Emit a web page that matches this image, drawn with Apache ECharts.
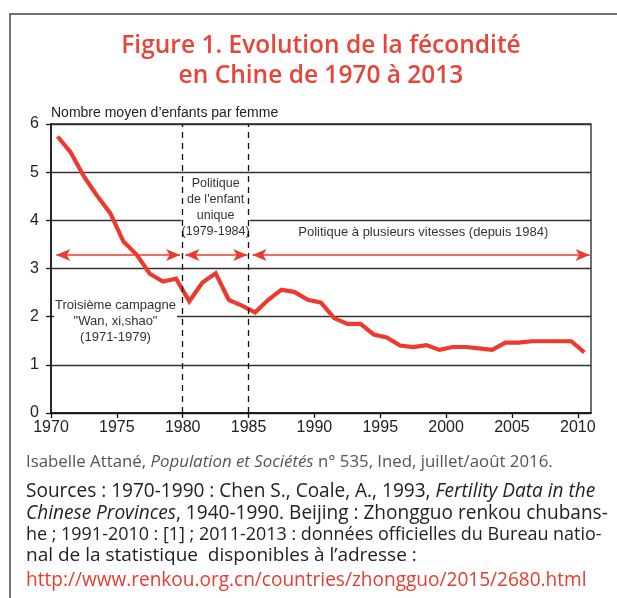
<!DOCTYPE html>
<html>
<head>
<meta charset="utf-8">
<script src="https://cdn.jsdelivr.net/npm/echarts@6/dist/echarts.min.js"></script>
<style>
  html, body { margin: 0; padding: 0; background: #fff; }
  #chart { width: 617px; height: 598px; }
</style>
</head>
<body>
<div id="chart"></div>
<script>
// années (points tracés au milieu de l'année)
const years = [
  1970, 1971, 1972, 1973, 1974, 1975, 1976, 1977, 1978, 1979,
  1980, 1981, 1982, 1983, 1984, 1985, 1986, 1987, 1988, 1989,
  1990, 1991, 1992, 1993, 1994, 1995, 1996, 1997, 1998, 1999,
  2000, 2001, 2002, 2003, 2004, 2005, 2006, 2007, 2008, 2009, 2010,
];
// nombre moyen d'enfants par femme
const tfr = [
  5.74, 5.41, 4.91, 4.51, 4.15, 3.56, 3.29, 2.89, 2.73, 2.79,
  2.32, 2.71, 2.90, 2.35, 2.23, 2.09, 2.35, 2.56, 2.51, 2.35,
  2.29, 1.97, 1.85, 1.85, 1.63, 1.57, 1.40, 1.37, 1.41, 1.31,
  1.37, 1.37, 1.34, 1.31, 1.46, 1.46, 1.49, 1.49, 1.49, 1.49, 1.26,
];
const xTicks = [1970, 1975, 1980, 1985, 1990, 1995, 2000, 2005, 2010];
const yTicks = [0, 1, 2, 3, 4, 5, 6];
// périodes politiques (début, fin) et bornes en pointillé
const periodArrows = [[1970.4, 1979.8], [1980.2, 1984.9], [1985.3, 2010.9]];
const arrowLevel = 3.28;
const policyBreaks = [1980, 1985];

const RED = "#ec3a2d";
const TXT = "#222";
const SANS = "'Liberation Sans', sans-serif";
const FOOT = "'Open Sans', sans-serif";

const chartDom = document.getElementById("chart");
const myChart = echarts.init(chartDom);

const option = {
  animation: false,
  backgroundColor: "#fff",
  grid: {
    left: 51, right: 26, top: 124, bottom: 185,
    show: true, borderColor: "#222", borderWidth: 1.3,
  },
  xAxis: {
    type: "value",
    min: 1970, max: 2011, interval: 5,
    axisLine: { show: true, lineStyle: { color: "#111", width: 1.5 } },
    axisTick: { show: true, length: 5, customValues: xTicks, lineStyle: { color: "#111", width: 1.3 } },
    axisLabel: {
      customValues: xTicks, margin: 7,
      formatter: (v) => String(v),
      color: TXT, fontSize: 16, fontFamily: SANS,
    },
    splitLine: { show: false },
  },
  yAxis: {
    type: "value",
    min: 0, max: 6, interval: 1,
    name: "Nombre moyen d\u2019enfants par femme",
    nameLocation: "end",
    nameGap: 11,
    nameTextStyle: {
      align: "left", verticalAlign: "middle",
      color: TXT, fontSize: 14, fontFamily: SANS,
    },
    axisLine: { show: true, lineStyle: { color: "#111", width: 1.5 } },
    axisTick: { show: true, length: 5, customValues: yTicks, lineStyle: { color: "#111", width: 1.3 } },
    axisLabel: { margin: 12, color: TXT, fontSize: 16, fontFamily: SANS },
    splitLine: { show: true, lineStyle: { color: "#333", width: 1.3 } },
  },
  series: [
    {
      type: "line",
      data: years.map((y, i) => [y + 0.5, tfr[i]]),
      symbol: "none",
      lineStyle: { color: RED, width: 4.2, join: "miter" },
      z: 3,
      markLine: {
        silent: true,
        symbol: ["arrow", "arrow"],
        symbolSize: [9, 14],
        label: { show: false },
        lineStyle: { color: RED, width: 1.6, type: "solid" },
        data: periodArrows.map(([a, b]) => [
          { coord: [a, arrowLevel] },
          { coord: [b, arrowLevel] },
        ]),
      },
    },
    {
      type: "line",
      data: [],
      markLine: {
        silent: true,
        symbol: "none",
        label: { show: false },
        lineStyle: { color: "#111", width: 1.3, type: [6, 5] },
        data: policyBreaks.map((x) => ({ xAxis: x })),
      },
    },
  ],
};

myChart.setOption(option);

// textes positionnés en coordonnées de données
const px = (x, y) => myChart.convertToPixel({ gridIndex: 0 }, [x, y]);

const notes = [
  { at: [1982.5, 4.26], size: 12.5, text: "Politique\nde l'enfant\nunique\n(1979-1984)", pad: [0, 0] },
  { at: [1974.9, 1.91], size: 13, text: "Troisième campagne\n\"Wan, xi,shao\"\n(1971-1979)", pad: [0, 1] },
  { at: [1998.27, 3.75], size: 13, text: "Politique à plusieurs vitesses (depuis 1984)", pad: [0, 0] },
];

const noteEls = notes.map((n) => {
  const [x, y] = px(n.at[0], n.at[1]);
  return {
    type: "text", x, y, z: 1,
    style: {
      text: n.text,
      fill: "#333",
      font: n.size + "px " + SANS,
      lineHeight: 16,
      align: "center", verticalAlign: "middle",
      backgroundColor: "#fff",
      padding: n.pad,
    },
  };
});

// source : largeur de chaque ligne dans la figure d'origine
const footer = [
  { y: 462, w: 527, fill: "#555", text: "Isabelle Attané, {i|Population et Sociétés} n° 535, Ined, juillet/août 2016." },
  { y: 492, w: 586, fill: TXT, text: "Sources : 1970-1990 : Chen S., Coale, A., 1993, {i|Fertility Data in the}" },
  { y: 514, w: 582, fill: TXT, text: "{i|Chinese Provinces}, 1940-1990. Beijing : Zhongguo renkou chubans-" },
  { y: 535, w: 576, fill: TXT, text: "he ; 1991-2010 : [1] ; 2011-2013 : données officielles du Bureau natio-" },
  { y: 556, w: 391, fill: TXT, text: "nal de la statistique  disponibles à l\u2019adresse :" },
  { y: 581, w: 568, fill: RED, text: "http://www.renkou.org.cn/countries/zhongguo/2015/2680.html" },
];

const ctx = document.createElement("canvas").getContext("2d");
function textWidth(text, size) {
  let w = 0;
  text.split(/(\{i\|[^}]*\})/).forEach((part) => {
    const it = part.startsWith("{i|");
    const s = it ? part.slice(3, -1) : part;
    ctx.font = (it ? "italic " : "") + size + "px " + FOOT;
    w += ctx.measureText(s).width;
  });
  return w;
}
const fits = footer.map((f) => (f.w / textWidth(f.text, 100)) * 100);
const body = fits.slice(1).slice().sort((a, b) => a - b);
const bodySize = body[Math.floor(body.length / 2)];

const footerEls = footer.map((f, i) => {
  const size = i === 0 ? fits[0] : Math.min(bodySize, fits[i]);
  return {
    type: "text", x: 26, y: f.y,
    style: {
      text: f.text,
      fill: f.fill,
      font: size + "px " + FOOT,
      verticalAlign: "middle",
      rich: { i: { fontStyle: "italic", fontSize: size, fontFamily: FOOT, fill: f.fill } },
    },
  };
});

const titleFont = "600 24.5px 'Open Sans', sans-serif";

myChart.setOption({
  graphic: [
    {
      type: "rect", z: 0,
      shape: { x: 10, y: 14, width: 700, height: 700 },
      style: { fill: "none", stroke: "#444", lineWidth: 1.5 },
    },
    {
      type: "text", x: 321, y: 46,
      style: {
        text: "Figure 1. Evolution de la fécondité",
        fill: "#e8453a", font: titleFont,
        align: "center", verticalAlign: "middle",
      },
    },
    {
      type: "text", x: 321, y: 76,
      style: {
        text: "en Chine de 1970 à 2013",
        fill: "#e8453a", font: titleFont,
        align: "center", verticalAlign: "middle",
      },
    },
    ...noteEls,
    ...footerEls,
  ],
});
</script>
</body>
</html>
